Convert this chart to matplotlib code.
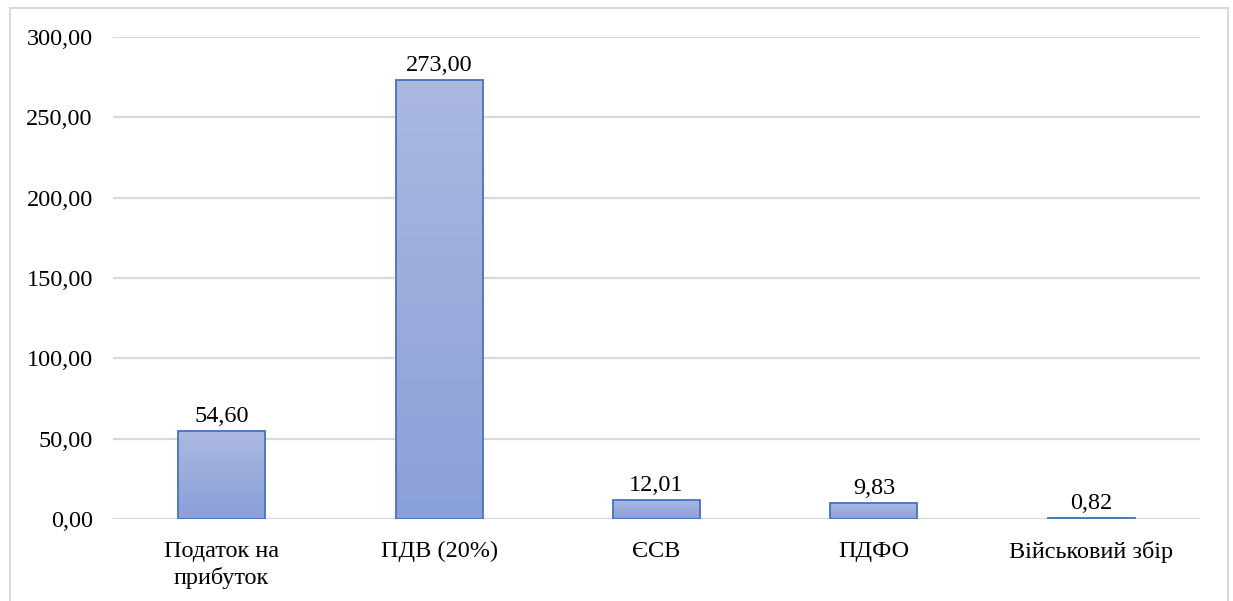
import numpy as np
import matplotlib.pyplot as plt
from matplotlib.patches import Rectangle
from matplotlib.colors import LinearSegmentedColormap

categories = ["Податок на\nприбуток", "ПДВ (20%)", "ЄСВ", "ПДФО", "Військовий збір"]
values = [54.60, 273.00, 12.01, 9.83, 0.82]
yticks = [0, 50, 100, 150, 200, 250, 300]

plt.rcParams['font.family'] = ['Liberation Serif', 'DejaVu Serif']
FS = 17.5

fig = plt.figure(figsize=(12.33, 6.01), dpi=100)
ax = fig.add_axes([113 / 1233, 1 - 519 / 601, (1200 - 113) / 1233, (519 - 37) / 601])

# outer chart frame
fig.patches.append(Rectangle((10 / 1233, -0.05), (1228 - 10) / 1233, 1.05 - 8 / 601,
                             transform=fig.transFigure, fill=False,
                             edgecolor="#d9d9d9", linewidth=1.5))

ax.set_xlim(-0.5, len(categories) - 0.5)
ax.set_ylim(0, 300)
ax.set_yticks(yticks)
ax.set_yticklabels([f"{v:.2f}".replace(".", ",") for v in yticks], fontsize=FS)
ax.set_xticks(range(len(categories)))
ax.set_xticklabels(categories, fontsize=FS, linespacing=1.35)
ax.tick_params(axis="y", length=0, pad=14.5)
ax.tick_params(axis="x", length=0, pad=15.5)
for s in ax.spines.values():
    s.set_visible(False)
ax.yaxis.grid(True, color="#d9d9d9", linewidth=1.6)
ax.set_axisbelow(True)

cmap = LinearSegmentedColormap.from_list("bar", ["#8aa0d8", "#abb9e1"])
grad = np.linspace(0, 1, 256).reshape(-1, 1)
width = 0.4
bars = ax.bar(range(len(values)), values, width=width, facecolor="none",
              edgecolor="#4472c4", linewidth=1.3, zorder=3)
for b, v in zip(bars, values):
    x0 = b.get_x()
    im = ax.imshow(grad, cmap=cmap, origin="lower", aspect="auto",
                   extent=(x0, x0 + width, 0, v), zorder=2, interpolation="bilinear")
    im.set_clip_path(b)
    ax.text(b.get_x() + width / 2, v + 2.5, f"{v:.2f}".replace(".", ","),
            ha="center", va="bottom", fontsize=FS, zorder=4)

ax.set_xlim(-0.5, len(categories) - 0.5)
ax.set_ylim(0, 300)

fig.savefig("out.png", dpi=100)
